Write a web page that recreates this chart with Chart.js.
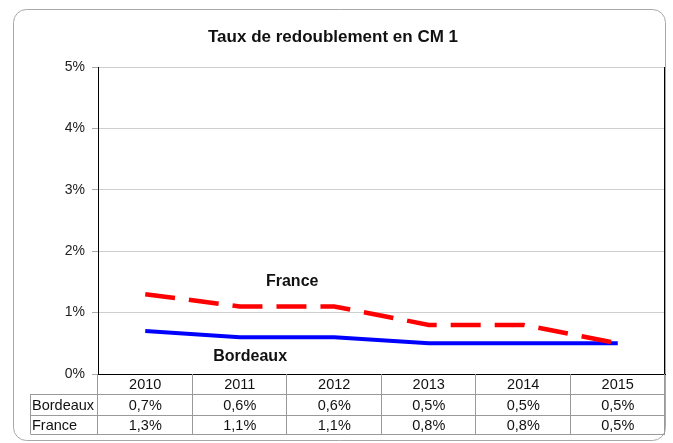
<!DOCTYPE html>
<html>
<head>
<meta charset="utf-8">
<script src="https://cdn.jsdelivr.net/npm/chart.js@4/dist/chart.umd.min.js"></script>
<style>
html,body{margin:0;padding:0;background:#fff;}
#wrap{position:absolute;left:0;top:0;width:673px;height:443px;}
</style>
</head>
<body>
<div id="wrap"><canvas id="c" width="673" height="443"></canvas></div>
<script>
const title = "Taux de redoublement en CM 1";
const years = ["2010", "2011", "2012", "2013", "2014", "2015"];
const bordeaux = [0.7, 0.6, 0.6, 0.5, 0.5, 0.5];
const france = [1.3, 1.1, 1.1, 0.8, 0.8, 0.5];
const yTicks = [0, 1, 2, 3, 4, 5];
const seriesNames = ["Bordeaux", "France"];

const FONT = "'Liberation Sans', Arial, Helvetica, sans-serif";
const fmt = v => v.toFixed(1).replace('.', ',') + '%';

const decor = {
  id: 'decor',
  beforeDraw(chart) {
    const ctx = chart.ctx;
    ctx.save();
    ctx.fillStyle = '#fff';
    ctx.fillRect(0, 0, chart.width, chart.height);
    // rounded frame
    const x0 = 13.5, y0 = 9.5, x1 = 665.5, y1 = 440.5, r = 13;
    ctx.beginPath();
    ctx.moveTo(x0 + r, y0);
    ctx.lineTo(x1 - r, y0);
    ctx.arcTo(x1, y0, x1, y0 + r, r);
    ctx.lineTo(x1, y1 - r);
    ctx.arcTo(x1, y1, x1 - r, y1, r);
    ctx.lineTo(x0 + r, y1);
    ctx.arcTo(x0, y1, x0, y1 - r, r);
    ctx.lineTo(x0, y0 + r);
    ctx.arcTo(x0, y0, x0 + r, y0, r);
    ctx.closePath();
    ctx.strokeStyle = '#a8a8a8';
    ctx.lineWidth = 1;
    ctx.stroke();
    // title
    ctx.fillStyle = '#111';
    ctx.font = "bold 17px " + FONT;
    ctx.textAlign = 'center';
    ctx.textBaseline = 'middle';
    ctx.fillText(title, 333, 37);
    ctx.restore();
  },
  afterDraw(chart) {
    const ctx = chart.ctx;
    const xs = chart.scales.x, ys = chart.scales.y;
    const a = chart.chartArea;
    ctx.save();
    // right plot border
    ctx.strokeStyle = '#000';
    ctx.lineWidth = 1;
    ctx.beginPath();
    ctx.moveTo(Math.round(a.right) - 0.5, a.top);
    ctx.lineTo(Math.round(a.right) - 0.5, a.bottom);
    ctx.stroke();
    // data table
    const top = Math.round(a.bottom);
    const rows = [top, top + 20, top + 41, top + 60];
    const labelLeft = 30.5;
    const colW = (a.right - a.left) / years.length;
    ctx.strokeStyle = '#9a9a9a';
    ctx.beginPath();
    for (let i = 1; i < rows.length; i++) {
      ctx.moveTo(labelLeft, rows[i] + 0.5);
      ctx.lineTo(a.right, rows[i] + 0.5);
    }
    ctx.moveTo(labelLeft, rows[1]);
    ctx.lineTo(labelLeft, rows[3]);
    for (let k = 0; k <= years.length; k++) {
      const x = Math.round(a.left + k * colW) - 0.5;
      ctx.moveTo(x, rows[0]);
      ctx.lineTo(x, rows[3]);
    }
    ctx.stroke();
    ctx.fillStyle = '#111';
    ctx.font = "14.5px " + FONT;
    ctx.textBaseline = 'middle';
    ctx.textAlign = 'center';
    years.forEach((y, i) => {
      ctx.fillText(y, xs.getPixelForValue(i), (rows[0] + rows[1]) / 2 + 1);
    });
    const series = [bordeaux, france];
    series.forEach((s, r) => {
      ctx.textAlign = 'left';
      ctx.fillText(seriesNames[r], 32, (rows[r + 1] + rows[r + 2]) / 2 + 1);
      ctx.textAlign = 'center';
      s.forEach((v, i) => {
        ctx.fillText(fmt(v), xs.getPixelForValue(i), (rows[r + 1] + rows[r + 2]) / 2 + 1);
      });
    });
    // series labels in plot
    ctx.font = "bold 16px " + FONT;
    ctx.textAlign = 'center';
    ctx.fillText(seriesNames[1], xs.getPixelForValue(1.555), ys.getPixelForValue(1.51));
    ctx.fillText(seriesNames[0], xs.getPixelForValue(1.11), ys.getPixelForValue(0.28));
    ctx.restore();
  }
};

new Chart(document.getElementById('c'), {
  type: 'line',
  data: {
    labels: years,
    datasets: [
      {
        label: seriesNames[1],
        data: france,
        borderColor: '#ff0000',
        borderWidth: 4.5,
        borderDash: [30, 14],
        pointRadius: 0,
        tension: 0,
        fill: false
      },
      {
        label: seriesNames[0],
        data: bordeaux,
        borderColor: '#0000ff',
        borderWidth: 4,
        pointRadius: 0,
        tension: 0,
        fill: false
      }
    ]
  },
  options: {
    responsive: false,
    animation: false,
    layout: { padding: { left: 0, top: 67, right: 8, bottom: 0 } },
    plugins: { legend: { display: false }, title: { display: false }, tooltip: { enabled: false } },
    scales: {
      x: {
        type: 'category',
        offset: true,
        grid: { display: false, drawTicks: false },
        border: { display: true, color: '#000', width: 1 },
        ticks: { display: false },
        afterFit(s) { s.height = 69; }
      },
      y: {
        min: 0,
        max: 5,
        afterBuildTicks(s) { s.ticks = yTicks.map(v => ({ value: v })); },
        grid: { color: '#cfcfcf', tickLength: 6, tickColor: '#aaa' },
        border: { display: true, color: '#000', width: 1 },
        ticks: {
          color: '#222',
          padding: 7,
          font: { size: 14, family: FONT },
          callback: v => v + '%'
        },
        afterFit(s) { s.width = 98; }
      }
    }
  },
  plugins: [decor]
});
</script>
</body>
</html>
